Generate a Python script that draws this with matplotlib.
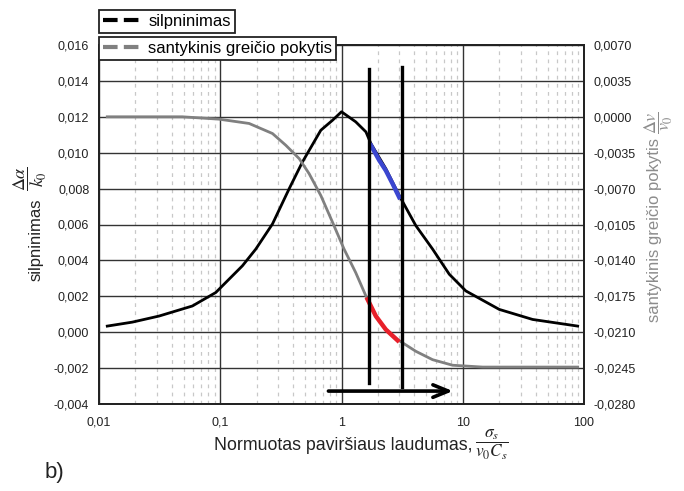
import numpy as np
import matplotlib
matplotlib.use("Agg")
import matplotlib.pyplot as plt
from matplotlib.lines import Line2D
from matplotlib.ticker import FixedLocator, FuncFormatter, LogLocator, NullFormatter

plt.rcParams['font.family'] = ['Liberation Sans', 'DejaVu Sans']
plt.rcParams['mathtext.fontset'] = 'stix'

# silpninimas (left axis)
silp_x = [0.0117, 0.0188, 0.0313, 0.0589, 0.0918, 0.1524, 0.1964, 0.2696, 0.370, 0.476,
          0.675, 0.844, 1.0, 1.31, 1.59, 1.75, 2.32, 2.99, 4.10, 5.64, 7.74, 10.6, 20.0, 37.7, 88.7]
silp_y = [0.00034, 0.00056, 0.0009, 0.00146, 0.00221, 0.0037, 0.00463, 0.00603, 0.00799, 0.00948,
          0.01125, 0.01181, 0.01228, 0.01172, 0.01116, 0.0105, 0.00911, 0.00762, 0.00594, 0.00463,
          0.00323, 0.0023, 0.00127, 0.00071, 0.00034]

# santykinis greicio pokytis (right axis)
greit_x = [0.0117, 0.0487, 0.0978, 0.173, 0.2696, 0.3476, 0.448, 0.541, 0.675, 0.844, 1.05,
           1.31, 1.59, 1.92, 2.32, 2.90, 4.10, 5.64, 8.24, 14.6, 88.7]
greit_y = [0.0, 0.0, -0.00023, -0.00065, -0.00163, -0.00278, -0.00408, -0.00555, -0.00767,
           -0.01029, -0.0129, -0.01519, -0.01747, -0.01943, -0.02074, -0.02172, -0.02286,
           -0.02368, -0.02422, -0.0244, -0.0244]

# highlighted pieces between the two vertical lines
blue_x = [1.75, 2.05, 2.32, 2.64, 2.99]
blue_y = [0.01041, 0.00957, 0.00901, 0.00827, 0.00752]
red_x = [1.64, 1.92, 2.32, 2.90]
red_y = [-0.0178, -0.01943, -0.02074, -0.0218]

# vertical markers and arrow (left axis units)
vline_x = [1.70, 3.18]
vline_top = [0.01466, 0.01477]
vline_bot = [-0.00283, -0.00305]
arrow_x = [0.78, 8.3]
arrow_y = -0.00328

left_ticks = [-0.004, -0.002, 0.0, 0.002, 0.004, 0.006, 0.008, 0.010, 0.012, 0.014, 0.016]
right_ticks = [-0.028, -0.0245, -0.021, -0.0175, -0.014, -0.0105, -0.007, -0.0035, 0.0, 0.0035, 0.007]
x_ticks = [0.01, 0.1, 1, 10, 100]
x_labels = ['0,01', '0,1', '1', '10', '100']

W, H = 684, 491


def px(x, y):
    return x / W, 1 - y / H


fig = plt.figure(figsize=(6.84, 4.91), dpi=100)
ax = fig.add_axes([99 / W, 87 / H, 485 / W, 359 / H])
ax2 = ax.twinx()

ax.set_xscale('log')
ax.set_xlim(0.01, 100)
ax.set_ylim(-0.004, 0.016)
ax2.set_ylim(-0.028, 0.007)

ax.xaxis.set_major_locator(FixedLocator(x_ticks))
ax.xaxis.set_minor_locator(LogLocator(base=10, subs=np.arange(2, 10)))
ax.xaxis.set_minor_formatter(NullFormatter())
ax.set_xticklabels(x_labels)
ax.yaxis.set_major_locator(FixedLocator(left_ticks))
ax.yaxis.set_major_formatter(FuncFormatter(lambda v, p: f"{v:.3f}".replace('.', ',').replace('-0,000', '0,000')))
ax2.yaxis.set_major_locator(FixedLocator(right_ticks))
ax2.yaxis.set_major_formatter(FuncFormatter(lambda v, p: f"{v:.4f}".replace('.', ',').replace('-0,0000', '0,0000')))

ax.grid(True, which='major', axis='both', color='#333333', lw=1.0)
ax.grid(True, which='minor', axis='x', color='#c8c8c8', lw=0.9, ls=(0, (3, 3.5)))
ax.set_axisbelow(True)

tick_color = '#222222'
ax.tick_params(axis='both', which='both', length=0, labelsize=9, colors=tick_color)
ax.tick_params(axis='y', pad=7)
ax.tick_params(axis='x', pad=9)
ax2.tick_params(axis='y', length=0, labelsize=9, colors=tick_color, pad=7)
for sp in list(ax.spines.values()) + list(ax2.spines.values()):
    sp.set_color('#222222')
    sp.set_linewidth(1.3)

# curves
ax.plot(silp_x, silp_y, color='black', lw=2.0, zorder=3)
ax2.plot(greit_x, greit_y, color='#808080', lw=2.0, zorder=2)
ax.plot(blue_x, blue_y, color='#3b46d0', lw=3.2, zorder=4)
ax2.plot(red_x, red_y, color='#e8202a', lw=3.2, zorder=3)

# vertical lines and arrow on top
for xv, yt, yb in zip(vline_x, vline_top, vline_bot):
    ax2.plot([xv, xv], [yb, yt], color='black', lw=2.4, transform=ax.transData, zorder=5)
ax2.annotate('', xy=(arrow_x[1], arrow_y), xytext=(arrow_x[0], arrow_y),
             xycoords=ax.transData, textcoords=ax.transData,
             arrowprops=dict(arrowstyle='->,head_length=1.1,head_width=0.45', color='black', lw=2.6,
                             shrinkA=0, shrinkB=0), zorder=5)

# axis titles: words and fractions as separate texts so the fractions can be larger
fig.text(*px(472, 450), "Normuotas paviršiaus laudumas,", fontsize=12.8, color='#222222',
         ha='right', va='baseline')
fig.text(*px(492, 445), r"$\dfrac{\sigma_s}{v_0 C_s}$", fontsize=12.5, color='#222222',
         ha='center', va='center')

fig.text(*px(36, 240), "silpninimas", fontsize=12, color='#222222', rotation=90,
         ha='center', va='center')
fig.text(*px(30, 179), r"$\dfrac{\Delta\alpha}{k_0}$", fontsize=13, color='#222222', rotation=90,
         ha='center', va='center')

fig.text(*px(654, 230), "santykinis greičio pokytis", fontsize=12, color='#8c8c8c', rotation=90,
         ha='center', va='center')
fig.text(*px(659, 123), r"$\dfrac{\Delta v}{v_0}$", fontsize=13, color='#8c8c8c', rotation=90,
         ha='center', va='center')

# legends as two boxes
h1 = Line2D([], [], color='black', lw=3, ls=(0, (3.5, 1.5)))
h2 = Line2D([], [], color='#808080', lw=3, ls=(0, (3.5, 1.5)))
leg_kw = dict(loc='upper left', fontsize=12, frameon=True, fancybox=False, borderaxespad=0,
              borderpad=0.25, handlelength=2.3, handletextpad=0.4)
l1 = fig.legend([h1], ['silpninimas'], bbox_to_anchor=px(99, 10), **leg_kw)
l2 = fig.legend([h2], ['santykinis greičio pokytis'], bbox_to_anchor=px(99, 37), **leg_kw)
for lg in (l1, l2):
    fr = lg.get_frame()
    fr.set_edgecolor('#222222')
    fr.set_linewidth(1.3)
    fr.set_alpha(1)

fig.text(*px(45, 478), 'b)', fontsize=16, color='#222222')

fig.savefig('out.png', dpi=100)
